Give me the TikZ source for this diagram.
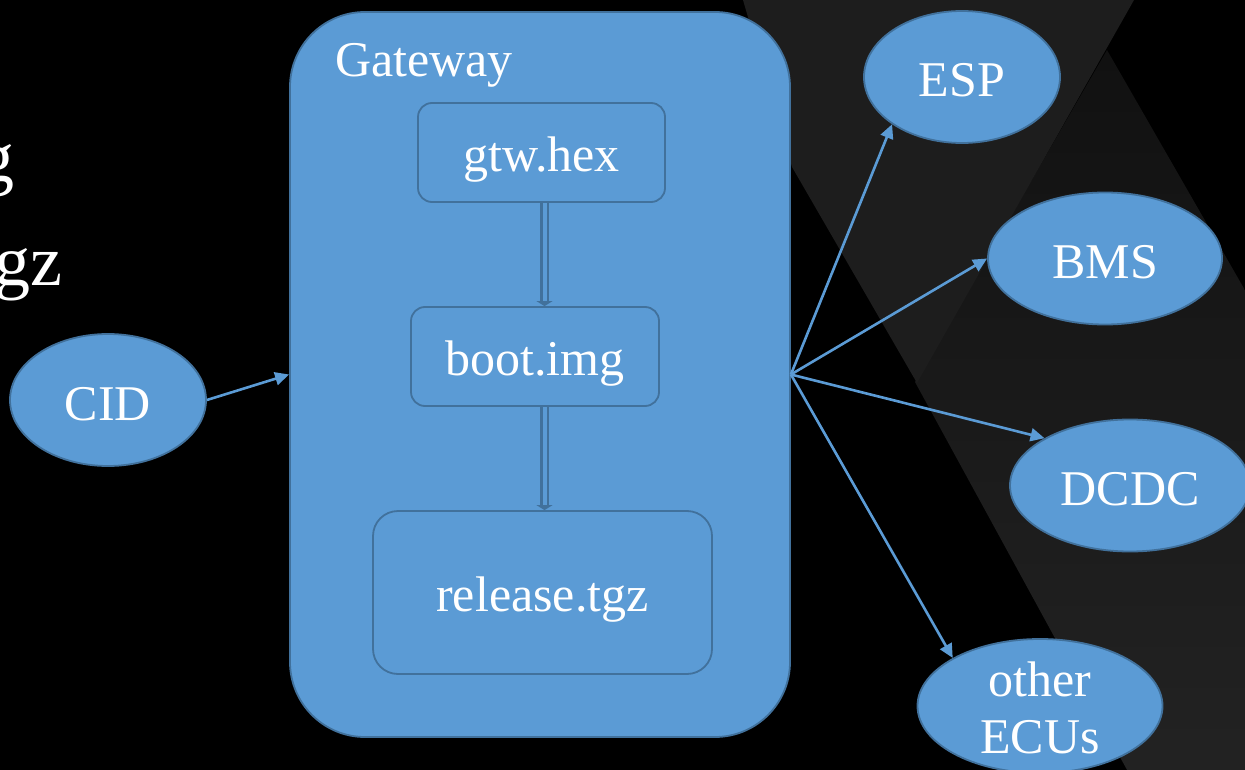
\documentclass[tikz,border=0pt]{standalone}
\usepackage{fontspec}
\setmainfont{Liberation Serif}
\usetikzlibrary{shapes.geometric,arrows.meta,calc}
\definecolor{nodefill}{HTML}{5B9BD5}
\definecolor{nodeline}{HTML}{41719C}
\definecolor{bgtri}{HTML}{1D1D1D}
\definecolor{bgtop}{HTML}{111111}
\definecolor{bgbot}{HTML}{232323}
\begin{document}
\begin{tikzpicture}[x=1pt,y=-1pt,
  bigfont/.style={font=\fontsize{50}{57}\selectfont},
  ell/.style={ellipse, fill=nodefill, draw=nodeline, line width=1.8pt, inner sep=0pt,
    text=white, bigfont, minimum height=132pt, text height=40pt, text depth=0pt},
  filebox/.style={rectangle, rounded corners=14pt, fill=nodefill, draw=nodeline, line width=1.8pt,
    inner sep=0pt, text=white, bigfont, text height=38pt, text depth=0pt},
  gwbox/.style={rectangle, rounded corners=75pt, fill=nodefill, draw=nodeline, line width=1.8pt, inner sep=0pt},
  conn/.style={draw=nodefill, line width=2.6pt, -{Triangle[length=14pt,width=13pt]}},
  flow/.style={draw=nodeline, line width=2.4pt, double=nodefill, double distance=4pt,
    -{Triangle[length=5pt,width=16pt]}},
  edgetext/.style={text=white, inner sep=0pt, font=\fontsize{72}{80}\selectfont}]

\useasboundingbox (0,0) rectangle (1245,770);
\fill[black] (0,0) rectangle (1245,770);
\begin{scope}
  \clip (0,0) rectangle (1245,770);
  \shade[top color=bgtop, bottom color=bgbot] (1107,50) -- (1265,325) -- (1265,790) -- (1138,790) -- (915,382) -- cycle;
  \fill[bgtri] (743,0) -- (1134,0) -- (917,383) -- (792,167) -- (775,110) -- cycle;
  \node[edgetext, anchor=base east] (cutg) at (15,182) {g};
  \node[edgetext, anchor=base east] (cutgz) at (63,285) {gz};
\end{scope}

% Gateway
\node[gwbox, minimum width=500pt, minimum height=725pt] (gw) at (540,374.5) {};
\node[anchor=base west, inner sep=0pt, text=white, bigfont] (gwlabel) at (335,77) {Gateway};

\node[filebox, minimum width=247pt, minimum height=99pt] (gtw) at (541.5,152.5) {gtw.hex};
\node[filebox, minimum width=248pt, minimum height=99pt] (boot) at (535,356.5) {boot.img};
\node[filebox, rounded corners=25pt, minimum width=339pt, minimum height=163pt] (rel) at (542.5,592.5) {release.tgz};

\coordinate (axis) at (544.5,0);
\draw[flow] (gtw.south -| axis) -- (boot.north -| axis);
\draw[flow] (boot.south -| axis) -- (rel.north -| axis);

% ECUs
\node[ell, minimum width=196pt] (cid) at (108,400) {CID};
\node[ell, minimum width=196pt] (esp) at (962,77) {ESP};
\node[ell, minimum width=234pt] (bms) at (1105,258.5) {BMS};
\node[ell, minimum width=240pt] (dcdc) at (1130,485.5) {DCDC};
\node[ell, minimum width=245pt, minimum height=134pt, text height=0pt] (other) at (1040,706)
  {\raisebox{-47pt}[0pt][0pt]{\begin{tabular}[b]{@{}c@{}}other\\ECUs\end{tabular}}};

\draw[conn] (cid.east) -- (gw.west);
\draw[conn] (gw.east) -- (esp.south west);
\draw[conn] (gw.east) -- (bms.west);
\draw[conn] (gw.east) -- (dcdc.north west);
\draw[conn] (gw.east) -- (other.north west);
\end{tikzpicture}
\end{document}
